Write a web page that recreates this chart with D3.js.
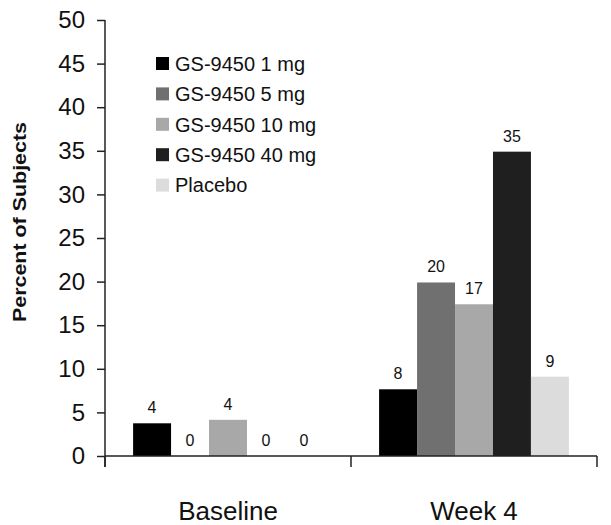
<!DOCTYPE html>
<html><head><meta charset="utf-8">
<script src="https://cdn.jsdelivr.net/npm/d3@7"></script>
<style>body{margin:0;background:#fff}text{font-family:"Liberation Sans",Arial,sans-serif}</style>
</head><body><svg id="c" width="611" height="525"></svg>
<script>
const categories = ["Baseline", "Week 4"];
const seriesNames = ["GS-9450 1 mg", "GS-9450 5 mg", "GS-9450 10 mg", "GS-9450 40 mg", "Placebo"];
const seriesColors = ["#000000", "#707070", "#a8a8a8", "#1f1f1f", "#dcdcdc"];
const values = [
  [3.75, 7.65],
  [0, 19.9],
  [4.15, 17.4],
  [0, 34.9],
  [0, 9.1]
];
const valueLabels = [
  ["4", "8"],
  ["0", "20"],
  ["4", "17"],
  ["0", "35"],
  ["0", "9"]
];
const yTicks = [0, 5, 10, 15, 20, 25, 30, 35, 40, 45, 50];

const svg = d3.select("#c");
const x0 = 105, x1 = 597, yTop = 20, yBot = 456;
const y = d3.scaleLinear().domain([0, 50]).range([yBot, yTop]);
const xb = d3.scaleBand().domain(categories).range([x0, x1]).paddingInner(0).paddingOuter(0);
const inner = d3.scaleBand().domain(d3.range(seriesNames.length)).range([0, xb.bandwidth()]).paddingInner(0).paddingOuter(0.74);

// bars
seriesNames.forEach((s, i) => {
  categories.forEach((c, j) => {
    const v = values[i][j];
    const bx = xb(c) + inner(i);
    if (v > 0) {
      svg.append("rect").attr("x", bx).attr("y", y(v)).attr("width", inner.bandwidth()).attr("height", yBot - y(v)).attr("fill", seriesColors[i]);
    }
    svg.append("text").attr("x", bx + inner.bandwidth() / 2).attr("y", y(v) - 10)
      .attr("text-anchor", "middle").attr("font-size", 16).attr("fill", "#111").text(valueLabels[i][j]);
  });
});

// y axis
const yAxis = d3.axisLeft(y).tickValues(yTicks).tickSize(8).tickPadding(12);
const gy = svg.append("g").attr("transform", `translate(${x0},0)`).call(yAxis);
gy.select(".domain").attr("d", `M0,${yTop}V${yBot + 11}`).attr("stroke", "#222").attr("stroke-width", 1.5);
gy.selectAll(".tick line").attr("stroke", "#222").attr("stroke-width", 1.5);
gy.selectAll(".tick text").attr("font-size", 24).attr("fill", "#111").attr("font-family", "Liberation Sans, Arial, sans-serif");

// x axis
const gx = svg.append("g").attr("transform", `translate(0,${yBot})`);
gx.append("line").attr("x1", x0).attr("x2", x1).attr("stroke", "#222").attr("stroke-width", 1.5);
const boundaries = [x0].concat(categories.map(c => xb(c) + xb.bandwidth()));
boundaries.forEach(b => gx.append("line").attr("x1", b).attr("x2", b).attr("y1", 0).attr("y2", 11).attr("stroke", "#222").attr("stroke-width", 1.5));
categories.forEach(c => gx.append("text").attr("x", xb(c) + xb.bandwidth() / 2).attr("y", 64)
  .attr("text-anchor", "middle").attr("font-size", 26).attr("fill", "#111").text(c));

// y title
svg.append("text").attr("transform", `translate(26,222) rotate(-90)`).attr("text-anchor", "middle")
  .attr("font-size", 19).attr("font-weight", "bold").attr("fill", "#111")
  .attr("textLength", 200).attr("lengthAdjust", "spacingAndGlyphs").text("Percent of Subjects");

// legend
const lg = svg.append("g").attr("transform", "translate(156,63.5)");
seriesNames.forEach((s, i) => {
  const g = lg.append("g").attr("transform", `translate(0,${i * 30.4})`);
  g.append("rect").attr("x", 0).attr("y", -6.5).attr("width", 13).attr("height", 13).attr("fill", seriesColors[i]);
  g.append("text").attr("x", 19).attr("y", 7.2).attr("font-size", 20).attr("fill", "#111").text(s);
});
</script></body></html>
